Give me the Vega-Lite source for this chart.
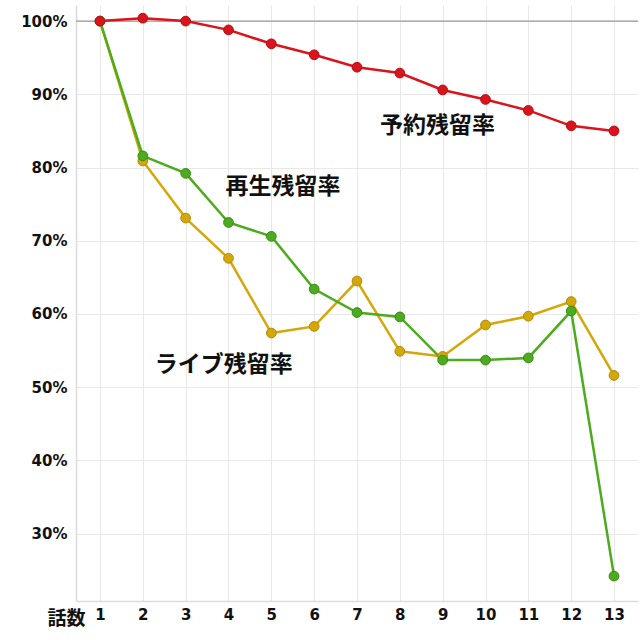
{
  "$schema": "https://vega.github.io/schema/vega-lite/v6.json",
  "width": 562,
  "height": 596,
  "autosize": "none",
  "padding": {"left": 76, "top": 5, "right": 2, "bottom": 39},
  "background": "white",
  "config": {
    "view": {"stroke": null},
    "font": "DejaVu Sans, Noto Sans CJK JP",
    "axis": {
      "labelFont": "DejaVu Sans",
      "labelFontWeight": "bold",
      "labelFontSize": 15,
      "labelColor": "#111",
      "gridColor": "#e8e8e8",
      "gridWidth": 1,
      "domainColor": "#dcdcdc",
      "domainWidth": 1.5,
      "ticks": false
    }
  },
  "datasets": {
    "series": [
      {"ep": 1, "v": 100, "s": "ライブ"}, {"ep": 2, "v": 80.9, "s": "ライブ"}, {"ep": 3, "v": 73.1, "s": "ライブ"},
      {"ep": 4, "v": 67.6, "s": "ライブ"}, {"ep": 5, "v": 57.4, "s": "ライブ"}, {"ep": 6, "v": 58.3, "s": "ライブ"},
      {"ep": 7, "v": 64.5, "s": "ライブ"}, {"ep": 8, "v": 54.9, "s": "ライブ"}, {"ep": 9, "v": 54.2, "s": "ライブ"},
      {"ep": 10, "v": 58.5, "s": "ライブ"}, {"ep": 11, "v": 59.7, "s": "ライブ"}, {"ep": 12, "v": 61.7, "s": "ライブ"},
      {"ep": 13, "v": 51.6, "s": "ライブ"},
      {"ep": 1, "v": 100, "s": "再生"}, {"ep": 2, "v": 81.6, "s": "再生"}, {"ep": 3, "v": 79.2, "s": "再生"},
      {"ep": 4, "v": 72.5, "s": "再生"}, {"ep": 5, "v": 70.6, "s": "再生"}, {"ep": 6, "v": 63.4, "s": "再生"},
      {"ep": 7, "v": 60.2, "s": "再生"}, {"ep": 8, "v": 59.6, "s": "再生"}, {"ep": 9, "v": 53.7, "s": "再生"},
      {"ep": 10, "v": 53.7, "s": "再生"}, {"ep": 11, "v": 54.0, "s": "再生"}, {"ep": 12, "v": 60.4, "s": "再生"},
      {"ep": 13, "v": 24.2, "s": "再生"},
      {"ep": 1, "v": 100, "s": "予約"}, {"ep": 2, "v": 100.4, "s": "予約"}, {"ep": 3, "v": 100, "s": "予約"},
      {"ep": 4, "v": 98.8, "s": "予約"}, {"ep": 5, "v": 96.9, "s": "予約"}, {"ep": 6, "v": 95.4, "s": "予約"},
      {"ep": 7, "v": 93.7, "s": "予約"}, {"ep": 8, "v": 92.9, "s": "予約"}, {"ep": 9, "v": 90.6, "s": "予約"},
      {"ep": 10, "v": 89.3, "s": "予約"}, {"ep": 11, "v": 87.8, "s": "予約"}, {"ep": 12, "v": 85.7, "s": "予約"},
      {"ep": 13, "v": 85.0, "s": "予約"}
    ],
    "labels": [
      {"ep": 8.88, "v": 85.65, "t": "予約残留率"},
      {"ep": 5.27, "v": 77.3, "t": "再生残留率"},
      {"ep": 3.89, "v": 53.1, "t": "ライブ残留率"}
    ],
    "ref": [{"v": 100}]
  },
  "layer": [
    {
      "data": {"name": "ref"},
      "mark": {"type": "rule", "color": "#999999", "strokeWidth": 1.2},
      "encoding": {"y": {"field": "v", "type": "quantitative"}}
    },
    {
      "data": {"name": "series"},
      "mark": {"type": "line", "strokeWidth": 2.5},
      "encoding": {
        "x": {
          "field": "ep", "type": "quantitative",
          "scale": {"domain": [0.44, 13.56], "nice": false, "zero": false},
          "axis": {
            "values": [1, 2, 3, 4, 5, 6, 7, 8, 9, 10, 11, 12, 13],
            "format": "d",
            "labelPadding": 6,
            "title": "話数",
            "titleFont": "Noto Sans CJK JP",
            "titleFontSize": 19,
            "titleFontWeight": "bold",
            "titleColor": "#111",
            "titleAlign": "center",
            "titleBaseline": "middle",
            "titleX": -10,
            "titleY": 17,
            "titleAngle": 0
          }
        },
        "y": {
          "field": "v", "type": "quantitative",
          "scale": {"domain": [20.8, 102.2], "nice": false, "zero": false},
          "axis": {
            "values": [30, 40, 50, 60, 70, 80, 90, 100],
            "labelExpr": "datum.value + '%'",
            "labelPadding": 9,
            "title": null
          }
        },
        "stroke": {
          "field": "s", "type": "nominal",
          "scale": {"domain": ["ライブ", "再生", "予約"], "range": ["#d4a80a", "#4cab1e", "#d9141c"]},
          "legend": null
        },
        "order": {"field": "ep", "type": "quantitative"}
      }
    },
    {
      "data": {"name": "series"},
      "mark": {"type": "point", "filled": true, "size": 95, "strokeWidth": 1, "opacity": 1},
      "encoding": {
        "x": {"field": "ep", "type": "quantitative"},
        "y": {"field": "v", "type": "quantitative"},
        "fill": {
          "field": "s", "type": "nominal",
          "scale": {"domain": ["ライブ", "再生", "予約"], "range": ["#d4a80a", "#4cab1e", "#d9141c"]},
          "legend": null
        },
        "stroke": {
          "field": "s", "type": "nominal",
          "scale": {"domain": ["ライブ", "再生", "予約"], "range": ["#b08a08", "#3a8a16", "#b51016"]},
          "legend": null
        }
      }
    },
    {
      "data": {"name": "labels"},
      "mark": {"type": "text", "font": "Noto Sans CJK JP", "fontWeight": "bold", "fontSize": 23, "color": "#111", "align": "center", "baseline": "middle"},
      "encoding": {
        "x": {"field": "ep", "type": "quantitative"},
        "y": {"field": "v", "type": "quantitative"},
        "text": {"field": "t"}
      }
    }
  ],
  "resolve": {"scale": {"stroke": "independent"}}
}
